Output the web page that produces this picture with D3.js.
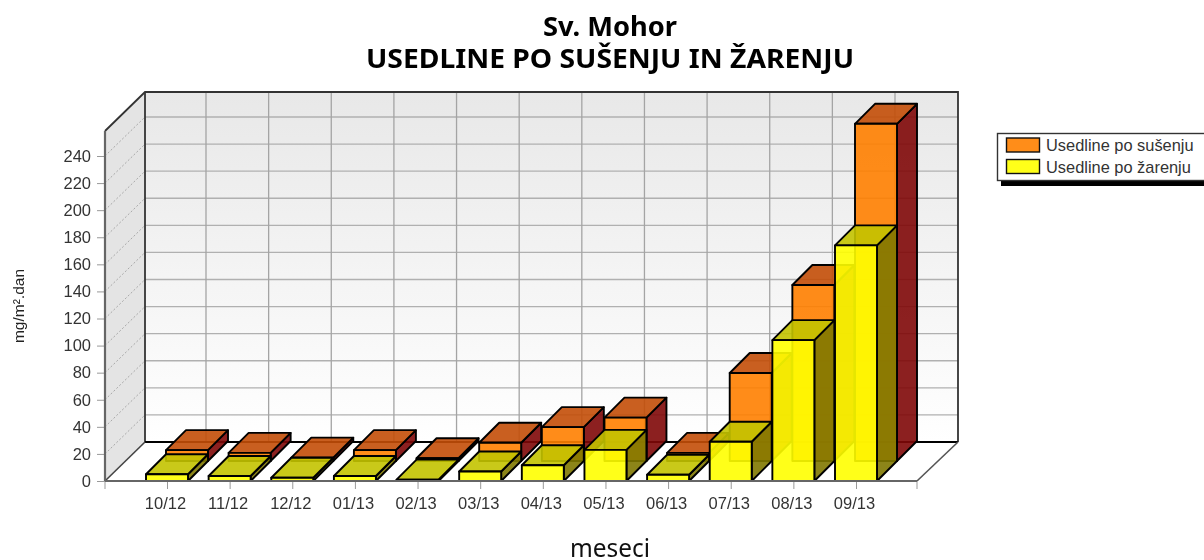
<!DOCTYPE html>
<html><head><meta charset="utf-8">
<script src="https://cdn.jsdelivr.net/npm/d3@7"></script>
<style>html,body{margin:0;background:#fff;overflow:hidden}svg{display:block;filter:blur(0.4px)}</style></head>
<body><svg id="c" width="1204" height="560"></svg>
<script>
const categories=["10/12","11/12","12/12","01/13","02/13","03/13","04/13","05/13","06/13","07/13","08/13","09/13"];
const susenje=[8,6,2.5,8,2,13.5,25,32,6,65,130,249];
const zarenje=[5,3.7,2.4,3.7,1,7,11.6,23,4.6,29,104,174];
const yTicks=d3.range(0,241,20);
const titleLines=["Sv. Mohor","USEDLINE PO SUŠENJU IN ŽARENJU"];
const titleWidths=[134,488];
const legendItems=["Usedline po sušenju","Usedline po žarenju"];
const font='"Liberation Sans",Arial,sans-serif';
const svg=d3.select("#c");
const DX=40,DY=-39,BX=20,BY=-20,BW=42;
const y=d3.scaleLinear().domain([0,240]).range([481,156]);
const x=d3.scalePoint().domain(categories).range([167,856]);
const yTop=131,L=105,R=917,yFloor=y(0);
const defs=svg.append("defs");
const g=defs.append("linearGradient").attr("id","wall").attr("x1",0).attr("x2",0).attr("y1",0).attr("y2",1);
g.append("stop").attr("offset",0).attr("stop-color","#e8e8e8");
g.append("stop").attr("offset",1).attr("stop-color","#ffffff");
const poly=(pts)=>pts.map(p=>p.join(",")).join(" ");
// walls
svg.append("polygon").attr("points",poly([[L,yTop],[L+DX,yTop+DY],[L+DX,yFloor+DY],[L,yFloor]])).attr("fill","#e4e4e4");
svg.append("rect").attr("x",L+DX).attr("y",yTop+DY).attr("width",R-L+1).attr("height",yFloor-yTop).attr("fill","url(#wall)");
svg.append("polygon").attr("points",poly([[L,yFloor],[L+DX,yFloor+DY],[R+DX+1,yFloor+DY],[R,yFloor]])).attr("fill","#fff");
// grid
yTicks.slice(1).forEach(t=>{
 svg.append("line").attr("x1",L+DX).attr("x2",R+DX+1).attr("y1",y(t)+DY).attr("y2",y(t)+DY).attr("stroke","#b0b0b0").attr("stroke-width",1.3);
 svg.append("line").attr("x1",L).attr("x2",L+DX).attr("y1",y(t)).attr("y2",y(t)+DY).attr("stroke","#a8a8a8").attr("stroke-dasharray","2,2");
});
categories.forEach(c=>{
 svg.append("line").attr("x1",x(c)+39).attr("x2",x(c)+39).attr("y1",yTop+DY).attr("y2",yFloor+DY).attr("stroke","#a4a4a4").attr("stroke-width",1.3);
});
// wall outlines
svg.append("path").attr("d",`M${L},${yTop}L${L+DX},${yTop+DY}H${R+DX+1}V${yFloor+DY}`).attr("fill","none").attr("stroke","#333").attr("stroke-width",1.8);
svg.append("line").attr("x1",L+DX).attr("x2",L+DX).attr("y1",yTop+DY).attr("y2",yFloor+DY).attr("stroke","#333").attr("stroke-width",1.8);
svg.append("line").attr("x1",L+DX).attr("x2",R+DX+1).attr("y1",yFloor+DY).attr("y2",yFloor+DY).attr("stroke","#000").attr("stroke-width",1.8);
svg.append("line").attr("x1",L).attr("x2",L+DX).attr("y1",yFloor).attr("y2",yFloor+DY).attr("stroke","#444").attr("stroke-width",1.6);
svg.append("line").attr("x1",R).attr("x2",R+DX+1).attr("y1",yFloor).attr("y2",yFloor+DY).attr("stroke","#555").attr("stroke-width",1.6);
// bars
function bars(values,ox,oy,cols){
 const gg=svg.append("g").attr("stroke","#000").attr("stroke-width",1.9).attr("stroke-linejoin","round").attr("fill-opacity",0.9);
 categories.forEach((c,i)=>{
  const x0=x(c)-BW/2+ox,x1=x0+BW,yb=y(0)+oy,yt=y(values[i])+oy;
  gg.append("polygon").attr("points",poly([[x1,yb],[x1+BX,yb+BY],[x1+BX,yt+BY],[x1,yt]])).attr("fill",cols.side);
  gg.append("polygon").attr("points",poly([[x0,yt],[x1,yt],[x1+BX,yt+BY],[x0+BX,yt+BY]])).attr("fill",cols.top);
  gg.append("rect").attr("x",x0).attr("y",yt).attr("width",BW).attr("height",yb-yt).attr("fill",cols.front);
 });
}
bars(susenje,BX,BY,{front:"rgb(255,128,0)",top:"rgb(195,78,8)",side:"rgb(128,8,8)"});
bars(zarenje,0,0,{front:"rgb(255,255,0)",top:"rgb(195,195,0)",side:"rgb(128,120,0)"});
// axes
const ax=svg.append("g").attr("transform",`translate(0,${yFloor})`).call(d3.axisBottom(x).tickSize(8).tickPadding(8));
ax.select(".domain").remove();
ax.selectAll("line").attr("stroke","#999");
ax.selectAll("text").attr("font-family",font).attr("font-size",16.5).attr("fill","#333").attr("dx",-2);
[L,R].forEach(v=>svg.append("line").attr("x1",v).attr("x2",v).attr("y1",yFloor).attr("y2",yFloor+8).attr("stroke","#999"));
svg.append("line").attr("x1",L).attr("x2",R).attr("y1",yFloor).attr("y2",yFloor).attr("stroke","#666").attr("stroke-width",2.2);
const ay=svg.append("g").attr("transform",`translate(${L},0)`).call(d3.axisLeft(y).tickValues(yTicks).tickSize(8).tickPadding(6));
ay.select(".domain").remove();
ay.selectAll("line").attr("stroke","#999");
ay.selectAll("text").attr("font-family",font).attr("font-size",16.5).attr("fill","#333");
svg.append("line").attr("x1",L).attr("x2",L).attr("y1",yTop).attr("y2",yFloor).attr("stroke","#666").attr("stroke-width",2.2);
// titles
svg.selectAll("text.t").data(titleLines).join("text").attr("class","t").attr("x",610).attr("y",(d,i)=>36+i*32)
 .attr("text-anchor","middle").attr("font-family",'"Noto Sans",sans-serif').attr("font-weight","bold").attr("font-size",26.5).attr("fill","#000")
 .attr("textLength",(d,i)=>titleWidths[i]).attr("lengthAdjust","spacingAndGlyphs").text(d=>d);
svg.append("text").attr("x",610).attr("y",557).attr("text-anchor","middle").attr("font-family",'"Noto Sans",sans-serif').attr("font-size",26).attr("fill","#111").attr("textLength",80).attr("lengthAdjust","spacingAndGlyphs").text("meseci");
svg.append("text").attr("transform","translate(24,306) rotate(-90)").attr("text-anchor","middle").attr("font-family",font).attr("font-size",15.5).attr("fill","#222").text("mg/m².dan");
// legend
svg.append("rect").attr("x",1001).attr("y",137).attr("width",210).attr("height",49).attr("fill","#000");
svg.append("rect").attr("x",997.5).attr("y",133.5).attr("width",212).attr("height",47).attr("fill","#fff").attr("stroke","#333").attr("stroke-width",1.4);
const sw=["rgb(255,141,25)","rgb(255,255,25)"];
legendItems.forEach((t,i)=>{
 svg.append("rect").attr("x",1006.5).attr("y",138+i*21.5).attr("width",33).attr("height",14).attr("fill",sw[i]).attr("stroke","#111").attr("stroke-width",1.4);
 svg.append("text").attr("x",1046).attr("y",151+i*21.5).attr("font-family",font).attr("font-size",16.4).attr("fill","#333").text(t);
});
</script></body></html>
